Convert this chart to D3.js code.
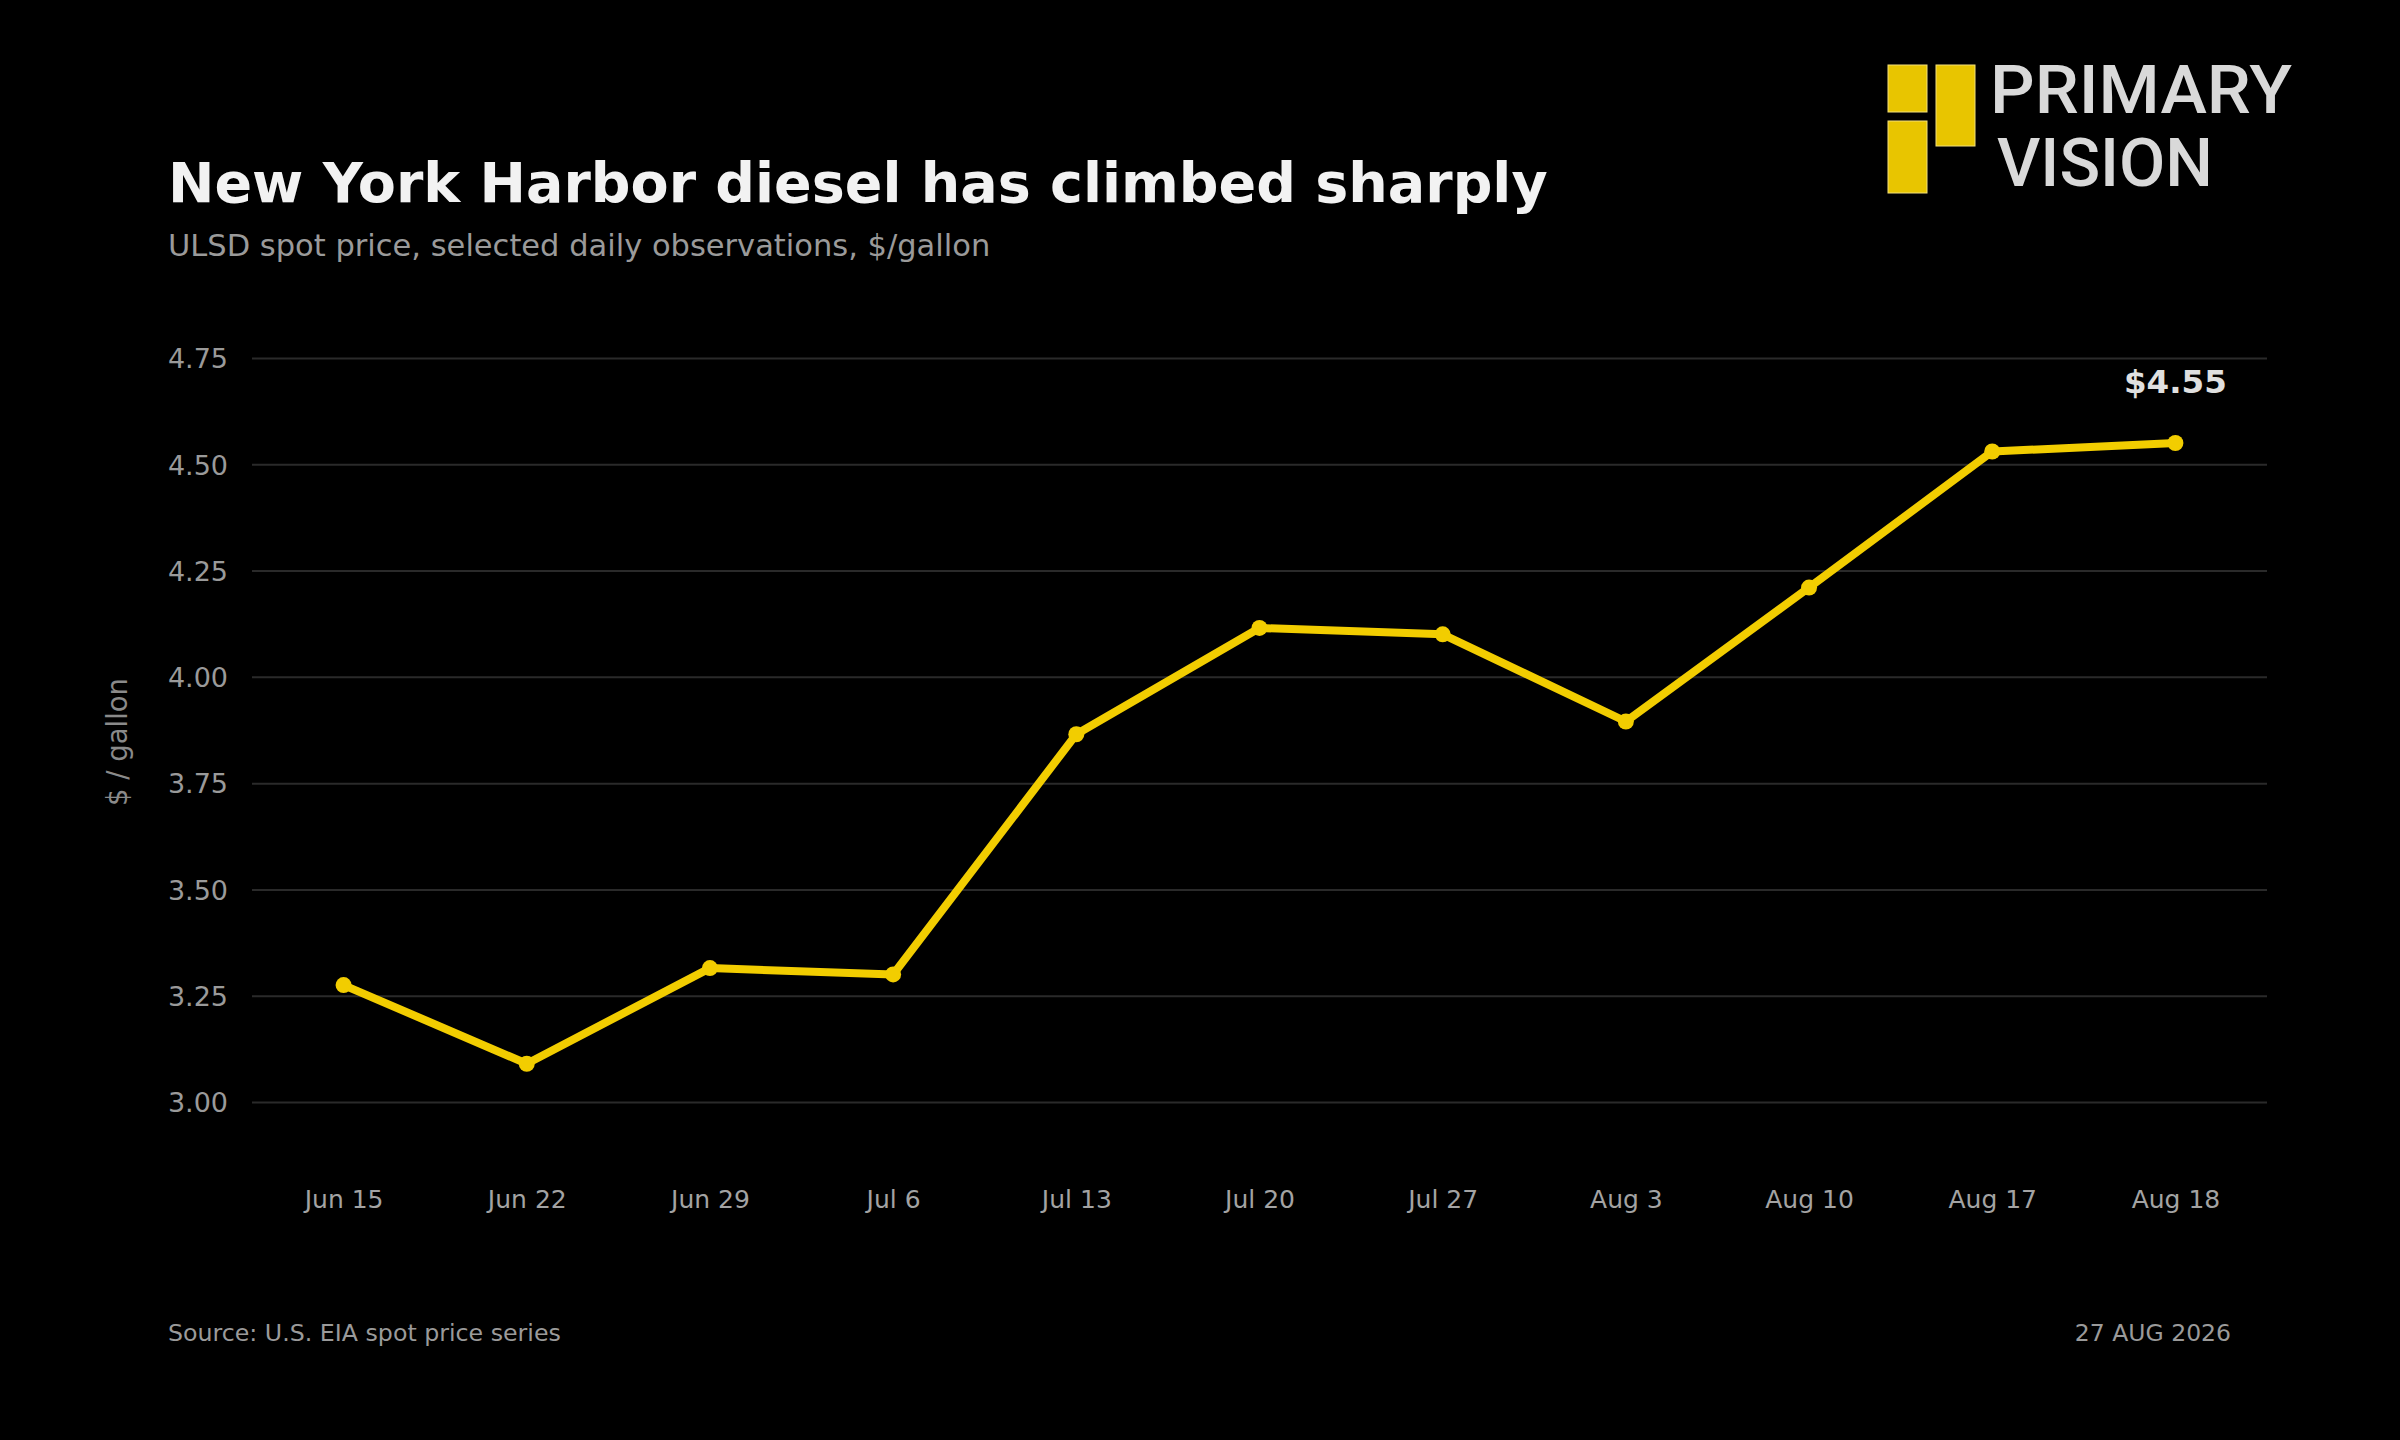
<!DOCTYPE html>
<html lang="en">
    <head>
        <meta charset="utf-8">
        <title>NY Harbor diesel</title>
        <script type="text/javascript" src="https://cdn.jsdelivr.net/npm/d3@7/dist/d3.min.js"></script>
        <style type="text/css">
            body {
                margin: 0;
                background-color: #000000;
            }
            svg text {
                font-family: "DejaVu Sans", sans-serif;
            }
        </style>
    </head>
    <body>
        <script type="text/javascript">

            // chart data
            var dates = ["Jun 15", "Jun 22", "Jun 29", "Jul 6", "Jul 13", "Jul 20",
                         "Jul 27", "Aug 3", "Aug 10", "Aug 17", "Aug 18"];
            var prices = [3.275, 3.09, 3.315, 3.30, 3.865, 4.115, 4.10, 3.895, 4.21, 4.53, 4.55];
            var yTicks = [3.00, 3.25, 3.50, 3.75, 4.00, 4.25, 4.50, 4.75];
            var yDomain = [3.00, 4.75];
            var lastLabel = "$4.55";

            var svgWidth = 2400;
            var svgHeight = 1440;
            var plotLeft = 252, plotRight = 2267;
            var plotTop = 358, plotBottom = 1102;

            var lineColor = "#f2cd00";

            var svg = d3.select('body').append('svg')
                .attr('width', svgWidth)
                .attr('height', svgHeight);

            svg.append('rect')
                .attr('width', svgWidth)
                .attr('height', svgHeight)
                .attr('fill', '#000');

            var x = d3.scalePoint()
                .domain(dates)
                .range([plotLeft, plotRight])
                .padding(0.5);

            var y = d3.scaleLinear()
                .domain(yDomain)
                .range([plotBottom, plotTop]);

            // title block
            svg.append('text')
                .attr('x', 168).attr('y', 202)
                .attr('font-size', 55.5).attr('font-weight', 'bold')
                .attr('fill', '#f2f2f2')
                .text('New York Harbor diesel has climbed sharply');

            svg.append('text')
                .attr('x', 168).attr('y', 256)
                .attr('font-size', 30.5)
                .attr('fill', '#9a9a9a')
                .text('ULSD spot price, selected daily observations, $/gallon');

            // logo
            var logo = svg.append('g');
            logo.append('rect').attr('x', 1888).attr('y', 65).attr('width', 39).attr('height', 47);
            logo.append('rect').attr('x', 1888).attr('y', 121).attr('width', 39).attr('height', 72);
            logo.append('rect').attr('x', 1936).attr('y', 65).attr('width', 39).attr('height', 81);
            logo.selectAll('rect')
                .attr('fill', '#e8c500')
                .attr('stroke', '#f3e07a')
                .attr('stroke-width', 1);
            logo.append('text')
                .attr('x', 1990).attr('y', 113)
                .attr('font-weight', 500)
                .attr('font-size', 67)
                .attr('fill', '#d9d9d9')
                .attr('textLength', 302)
                .attr('lengthAdjust', 'spacingAndGlyphs')
                .style('font-family', 'Roboto, sans-serif')
                .text('PRIMARY');
            logo.append('text')
                .attr('x', 1997).attr('y', 186)
                .attr('font-weight', 500)
                .attr('font-size', 67)
                .attr('fill', '#d9d9d9')
                .attr('textLength', 216)
                .attr('lengthAdjust', 'spacingAndGlyphs')
                .style('font-family', 'Roboto, sans-serif')
                .text('VISION');

            // y axis with gridlines
            var yAxis = d3.axisLeft(y)
                .tickValues(yTicks)
                .tickFormat(d3.format('.2f'))
                .tickSize(-(plotRight - plotLeft))
                .tickPadding(24);

            var gy = svg.append('g')
                .attr('transform', 'translate(' + plotLeft + ',0)')
                .call(yAxis);
            gy.select('.domain').remove();
            gy.selectAll('line')
                .attr('stroke', '#2a2a2a')
                .attr('stroke-width', 2);
            gy.selectAll('text')
                .attr('fill', '#9a9a9a')
                .attr('font-size', 27)
                .attr('dy', '0.36em')
                .style('font-family', '"DejaVu Sans", sans-serif');

            svg.append('text')
                .attr('transform', 'translate(127,' + ((plotTop + plotBottom) / 2 + 12) + ') rotate(-90)')
                .attr('text-anchor', 'middle')
                .attr('font-size', 27.5)
                .attr('fill', '#8a8a8a')
                .text('$ / gallon');

            // x axis labels only
            var xAxis = d3.axisBottom(x).tickSize(0).tickPadding(0);
            var gx = svg.append('g')
                .attr('transform', 'translate(0,1190)')
                .call(xAxis);
            gx.select('.domain').remove();
            gx.selectAll('text')
                .attr('fill', '#a3a3a3')
                .attr('font-size', 25)
                .style('font-family', '"DejaVu Sans", sans-serif');

            // the line
            var line = d3.line()
                .x(function (d, i) { return x(dates[i]); })
                .y(function (d) { return y(d); });

            svg.append('path')
                .datum(prices)
                .attr('d', line)
                .attr('fill', 'none')
                .attr('stroke', lineColor)
                .attr('stroke-width', 8)
                .attr('stroke-linejoin', 'round')
                .attr('stroke-linecap', 'round');

            svg.selectAll('circle.pt')
                .data(prices)
                .enter()
                .append('circle')
                .attr('class', 'pt')
                .attr('cx', function (d, i) { return x(dates[i]); })
                .attr('cy', function (d) { return y(d); })
                .attr('r', 8)
                .attr('fill', lineColor);

            // end label
            var lastIdx = prices.length - 1;
            svg.append('text')
                .attr('x', x(dates[lastIdx]))
                .attr('y', y(prices[lastIdx]) - 50)
                .attr('text-anchor', 'middle')
                .attr('font-size', 32.5)
                .attr('font-weight', 'bold')
                .attr('fill', '#e0e0e0')
                .text(lastLabel);

            // footer
            svg.append('text')
                .attr('x', 168).attr('y', 1341)
                .attr('font-size', 23.7)
                .attr('fill', '#9a9a9a')
                .text('Source: U.S. EIA spot price series');

            svg.append('text')
                .attr('x', 2231).attr('y', 1341)
                .attr('text-anchor', 'end')
                .attr('font-size', 23.5)
                .attr('fill', '#9a9a9a')
                .text('27 AUG 2026');

        </script>
    </body>
</html>
